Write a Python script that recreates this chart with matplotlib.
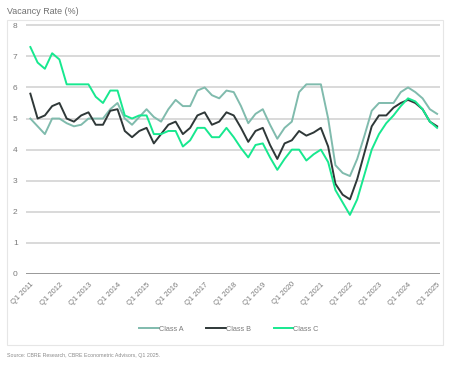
import matplotlib
matplotlib.use("Agg")
import matplotlib.pyplot as plt
from matplotlib.patches import Rectangle

plt.rcParams["font.family"] = ["Liberation Sans", "DejaVu Sans"]

years = list(range(2011, 2026))
tick_labels = [f"Q1 {y}" for y in years]

class_a = [5.0, 4.75, 4.5, 5.0, 5.0, 4.85, 4.75, 4.8, 5.0, 5.0, 5.0, 5.3, 5.5, 5.0, 4.8,
           5.05, 5.3, 5.05, 4.9, 5.3, 5.6, 5.4, 5.4, 5.9, 6.0, 5.75, 5.65, 5.9, 5.85, 5.4,
           4.85, 5.15, 5.3, 4.8, 4.35, 4.7, 4.9, 5.85, 6.1, 6.1, 6.1, 5.0, 3.5, 3.25, 3.15,
           3.7, 4.45, 5.25, 5.5, 5.5, 5.5, 5.85, 6.0, 5.85, 5.65, 5.3, 5.15]
class_b = [5.8, 5.0, 5.1, 5.4, 5.5, 5.0, 4.9, 5.1, 5.2, 4.8, 4.8, 5.25, 5.3, 4.6, 4.4,
           4.6, 4.7, 4.2, 4.5, 4.8, 4.9, 4.5, 4.7, 5.1, 5.2, 4.8, 4.9, 5.2, 5.1, 4.7,
           4.25, 4.6, 4.7, 4.15, 3.7, 4.2, 4.3, 4.6, 4.45, 4.55, 4.7, 4.1, 2.9, 2.55, 2.4,
           3.05, 3.9, 4.75, 5.1, 5.1, 5.35, 5.5, 5.6, 5.5, 5.3, 4.9, 4.75]
class_c = [7.3, 6.8, 6.6, 7.1, 6.9, 6.1, 6.1, 6.1, 6.1, 5.7, 5.5, 5.9, 5.9, 5.1, 5.0,
           5.1, 5.1, 4.5, 4.5, 4.6, 4.6, 4.1, 4.3, 4.7, 4.7, 4.4, 4.4, 4.7, 4.4, 4.05,
           3.75, 4.15, 4.2, 3.75, 3.35, 3.7, 4.0, 4.0, 3.65, 3.85, 4.0, 3.6, 2.7, 2.3, 1.9,
           2.4, 3.2, 4.0, 4.5, 4.85, 5.1, 5.4, 5.65, 5.55, 5.3, 4.9, 4.7]

quarters = list(range(len(class_a)))
text_grey = "#7a7a7a"

fig = plt.figure(figsize=(4.51, 3.69), dpi=100)
fig.patch.set_facecolor("white")

# light card border around the chart
fig.add_artist(Rectangle((7 / 451, 24 / 369), 436 / 451, 325 / 369,
                         transform=fig.transFigure, fill=False,
                         edgecolor="#e6e6e6", linewidth=0.8))

ax = fig.add_axes([26 / 451, 1 - 274 / 369, 414 / 451, 250.3 / 369])
ax.plot(quarters, class_a, color="#80BBAD", linewidth=1.4, label="Class A")
ax.plot(quarters, class_b, color="#2f3838", linewidth=1.4, label="Class B")
ax.plot(quarters, class_c, color="#17E88F", linewidth=1.4, label="Class C")

ax.set_xlim(-0.6, 56.4)
ax.set_ylim(0, 8.05)
ax.set_yticks(range(0, 9))
ax.set_xticks(quarters[::4])
ax.set_xticklabels(tick_labels, rotation=45, ha="right", rotation_mode="anchor")
ax.tick_params(axis="both", length=0, labelsize=5.5, colors=text_grey)
ax.tick_params(axis="y", labelsize=6, pad=6)
ax.tick_params(axis="x", pad=5)
ax.grid(True, axis="y", color="#cfcfcf", linewidth=1.1)
ax.set_axisbelow(True)
for spine in ax.spines.values():
    spine.set_visible(False)
ax.axhline(0, color="#9a9a9a", linewidth=1.4, zorder=1)

fig.text(7 / 451, 1 - 11 / 369, "Vacancy Rate (%)", fontsize=6.4, color="#6f6f6f",
         va="center", ha="left")

fig.legend(loc="center", bbox_to_anchor=(229 / 451, 1 - 329 / 369), ncol=3, frameon=False,
           fontsize=5.2, handlelength=2.7, handletextpad=0.0, columnspacing=3.2,
           labelcolor=text_grey)

fig.text(7 / 451, 1 - 356 / 369, "Source: CBRE Research, CBRE Econometric Advisors, Q1 2025.",
         fontsize=3.8, color="#8a8a8a", va="center", ha="left")

fig.savefig("out.png", dpi=100, facecolor=fig.get_facecolor())
plt.close(fig)
